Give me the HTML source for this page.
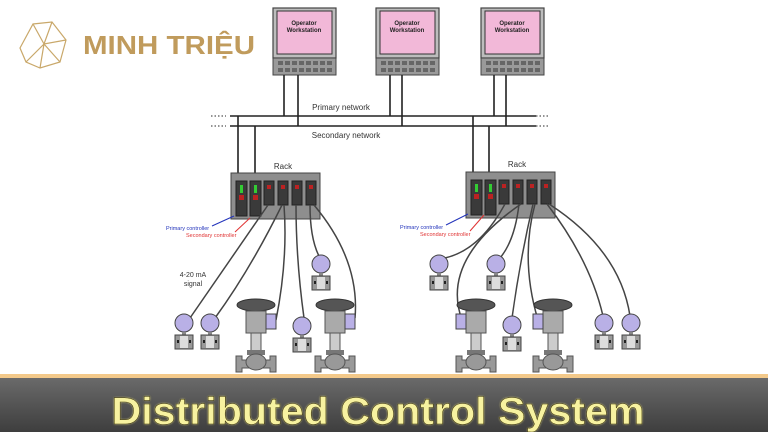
<!DOCTYPE html>
<html><head><meta charset="utf-8"><style>
html,body{margin:0;padding:0;width:768px;height:432px;overflow:hidden;background:#fff}
</style></head><body>
<svg width="768" height="432" viewBox="0 0 768 432" xmlns="http://www.w3.org/2000/svg" font-family="Liberation Sans, sans-serif">
<defs>
<linearGradient id="bar" x1="0" y1="0" x2="0" y2="1"><stop offset="0" stop-color="#6a6a6a"/><stop offset="1" stop-color="#3e3e3e"/></linearGradient>
<filter id="glow"><feGaussianBlur stdDeviation="1" result="b"/><feMerge><feMergeNode in="b"/><feMergeNode in="SourceGraphic"/></feMerge></filter>
<g id="ws">
<rect x="0" y="0" width="63" height="50" fill="#bdbdbd" stroke="#444" stroke-width="1.2"/>
<rect x="4" y="3" width="55" height="43" fill="#f2b8d8" stroke="#333"/>
<text x="31" y="17" font-size="6" font-weight="bold" text-anchor="middle" fill="#222">Operator</text>
<text x="31" y="24" font-size="6" font-weight="bold" text-anchor="middle" fill="#222">Workstation</text>
<rect x="0" y="50" width="63" height="17" fill="#9a9a9a" stroke="#444"/>
<g fill="#666"><rect x="5" y="53" width="5" height="4"/><rect x="12" y="53" width="5" height="4"/><rect x="19" y="53" width="5" height="4"/><rect x="26" y="53" width="5" height="4"/><rect x="33" y="53" width="5" height="4"/><rect x="40" y="53" width="5" height="4"/><rect x="47" y="53" width="5" height="4"/><rect x="54" y="53" width="5" height="4"/>
<rect x="5" y="60" width="5" height="4"/><rect x="12" y="60" width="5" height="4"/><rect x="19" y="60" width="5" height="4"/><rect x="26" y="60" width="5" height="4"/><rect x="33" y="60" width="5" height="4"/><rect x="40" y="60" width="5" height="4"/><rect x="47" y="60" width="5" height="4"/><rect x="54" y="60" width="5" height="4"/></g>
</g>
<g id="rack">
<rect x="0" y="0" width="89" height="46" fill="#8e8e8e" stroke="#444"/>
<rect x="5" y="8" width="11" height="35" fill="#3a3a3a" stroke="#222"/><rect x="9" y="12" width="3" height="8" fill="#3c3"/><rect x="8" y="22" width="5" height="5" fill="#b22"/>
<rect x="19" y="8" width="11" height="35" fill="#3a3a3a" stroke="#222"/><rect x="23" y="12" width="3" height="8" fill="#3c3"/><rect x="22" y="22" width="5" height="5" fill="#b22"/>
<rect x="33" y="8" width="10" height="24" fill="#3a3a3a" stroke="#222"/><rect x="36" y="12" width="4" height="4" fill="#b22"/>
<rect x="47" y="8" width="10" height="24" fill="#3a3a3a" stroke="#222"/><rect x="50" y="12" width="4" height="4" fill="#b22"/>
<rect x="61" y="8" width="10" height="24" fill="#3a3a3a" stroke="#222"/><rect x="64" y="12" width="4" height="4" fill="#b22"/>
<rect x="75" y="8" width="10" height="24" fill="#3a3a3a" stroke="#222"/><rect x="78" y="12" width="4" height="4" fill="#b22"/>
</g>
<g id="tx">
<circle cx="0" cy="0" r="9" fill="#b9b0e6" stroke="#444"/>
<rect x="-2" y="9" width="4" height="3" fill="#888"/>
<rect x="-9" y="12" width="18" height="14" fill="#999" stroke="#444"/>
<rect x="-4" y="13" width="8" height="12" fill="#ddd"/>
<rect x="-7" y="17" width="2" height="3" fill="#222"/><rect x="5" y="17" width="2" height="3" fill="#222"/>
</g>
<g id="valve">
<ellipse cx="0" cy="7" rx="19" ry="6" fill="#555" stroke="#333"/>
<rect x="-10" y="13" width="20" height="22" fill="#aaa" stroke="#555"/>
<rect x="10" y="16" width="10" height="15" fill="#b9b0e6" stroke="#444"/>
<rect x="-5" y="35" width="10" height="18" fill="#ccc" stroke="#555"/>
<rect x="-9" y="52" width="18" height="5" fill="#777"/>
<path d="M-20 58 h6 v4 h28 v-4 h6 v16 h-6 v-4 h-28 v4 h-6Z" fill="#999" stroke="#555"/>
<ellipse cx="0" cy="64" rx="10" ry="8" fill="#999" stroke="#555"/>
</g>
</defs>
<rect width="768" height="432" fill="#fff"/>
<g fill="none" stroke="#c9a86a" stroke-width="1.2">
<path d="M20 48 L33 24 L52 22 L66 40 L60 62 L40 68 L26 62Z M33 24 L44 44 L26 62 M52 22 L44 44 L66 40 M44 44 L40 68 M44 44 L60 62"/>
</g>
<text x="83" y="54" font-size="26" font-weight="bold" fill="#c09b5c" textLength="172" lengthAdjust="spacingAndGlyphs">MINH TRIỆU</text>
<use href="#ws" x="273" y="8"/><use href="#ws" x="376" y="8"/><use href="#ws" x="481" y="8"/>
<g stroke="#222" stroke-width="1.6" fill="none">
<line x1="230" y1="116" x2="536" y2="116"/><line x1="230" y1="126" x2="536" y2="126"/>
<line x1="284" y1="75" x2="284" y2="116"/><line x1="298" y1="75" x2="298" y2="126"/>
<line x1="390" y1="75" x2="390" y2="116"/><line x1="402" y1="75" x2="402" y2="126"/>
<line x1="494" y1="75" x2="494" y2="116"/><line x1="506" y1="75" x2="506" y2="126"/>
<line x1="238" y1="116" x2="238" y2="173"/><line x1="255" y1="126" x2="255" y2="173"/>
<line x1="473" y1="116" x2="473" y2="172"/><line x1="489" y1="126" x2="489" y2="172"/>
</g>
<g stroke="#555" stroke-width="1.2" stroke-dasharray="1.5 2"><line x1="211" y1="116" x2="226" y2="116"/><line x1="211" y1="126" x2="226" y2="126"/><line x1="536" y1="116" x2="550" y2="116"/><line x1="536" y1="126" x2="550" y2="126"/></g>
<text x="341" y="110" font-size="8" text-anchor="middle" fill="#333">Primary network</text>
<text x="346" y="138" font-size="8" text-anchor="middle" fill="#333">Secondary network</text>
<text x="283" y="169" font-size="8" text-anchor="middle" fill="#333">Rack</text>
<text x="517" y="167" font-size="8" text-anchor="middle" fill="#333">Rack</text>
<use href="#rack" x="231" y="173"/><use href="#rack" x="466" y="172"/>
<g font-size="5.5"><text x="166" y="230" fill="#2233bb">Primary controller</text><text x="186" y="237" fill="#e03333">Secondary controller</text>
<text x="400" y="229" fill="#2233bb">Primary controller</text><text x="420" y="236" fill="#e03333">Secondary controller</text></g>
<g stroke-width="1"><line x1="212" y1="226" x2="234" y2="216" stroke="#2233bb"/><line x1="235" y1="232" x2="250" y2="218" stroke="#e03333"/>
<line x1="446" y1="225" x2="468" y2="214" stroke="#2233bb"/><line x1="470" y1="231" x2="484" y2="215" stroke="#e03333"/></g>
<text x="193" y="277" font-size="7" text-anchor="middle" fill="#333">4-20 mA</text>
<text x="193" y="286" font-size="7" text-anchor="middle" fill="#333">signal</text>
<g stroke="#444" stroke-width="1.5" fill="none">
<path d="M268 205 Q230 260 190 318"/><path d="M282 205 Q250 270 215 318"/>
<path d="M284 205 Q288 260 276 320"/><path d="M296 205 Q296 260 304 318"/>
<path d="M310 205 Q310 240 320 258"/><path d="M314 205 Q360 260 355 318"/>
<path d="M505 204 Q480 250 445 258"/><path d="M519 204 Q515 240 500 258"/>
<path d="M521 204 Q440 260 462 320"/><path d="M533 204 Q520 260 512 318"/>
<path d="M535 204 Q520 260 538 320"/><path d="M547 204 Q590 260 603 316"/><path d="M549 204 Q620 250 630 316"/>
</g>
<use href="#tx" x="184" y="323"/><use href="#tx" x="210" y="323"/><use href="#tx" x="302" y="326"/><use href="#tx" x="321" y="264"/>
<use href="#tx" x="439" y="264"/><use href="#tx" x="496" y="264"/><use href="#tx" x="512" y="325"/><use href="#tx" x="604" y="323"/><use href="#tx" x="631" y="323"/>
<use href="#valve" x="256" y="298"/><use href="#valve" x="335" y="298"/>
<g transform="translate(476 298) scale(-1 1)"><use href="#valve"/></g>
<g transform="translate(553 298) scale(-1 1)"><use href="#valve"/></g>
<rect x="0" y="374" width="768" height="4" fill="#f3c98a"/>
<rect x="0" y="378" width="768" height="54" fill="url(#bar)"/>
<text x="378" y="424" font-size="38" font-weight="bold" text-anchor="middle" fill="#f7f2a0" stroke="#3a3000" stroke-width="0.5" filter="url(#glow)" textLength="533" lengthAdjust="spacingAndGlyphs">Distributed Control System</text>
</svg>
</body></html>
